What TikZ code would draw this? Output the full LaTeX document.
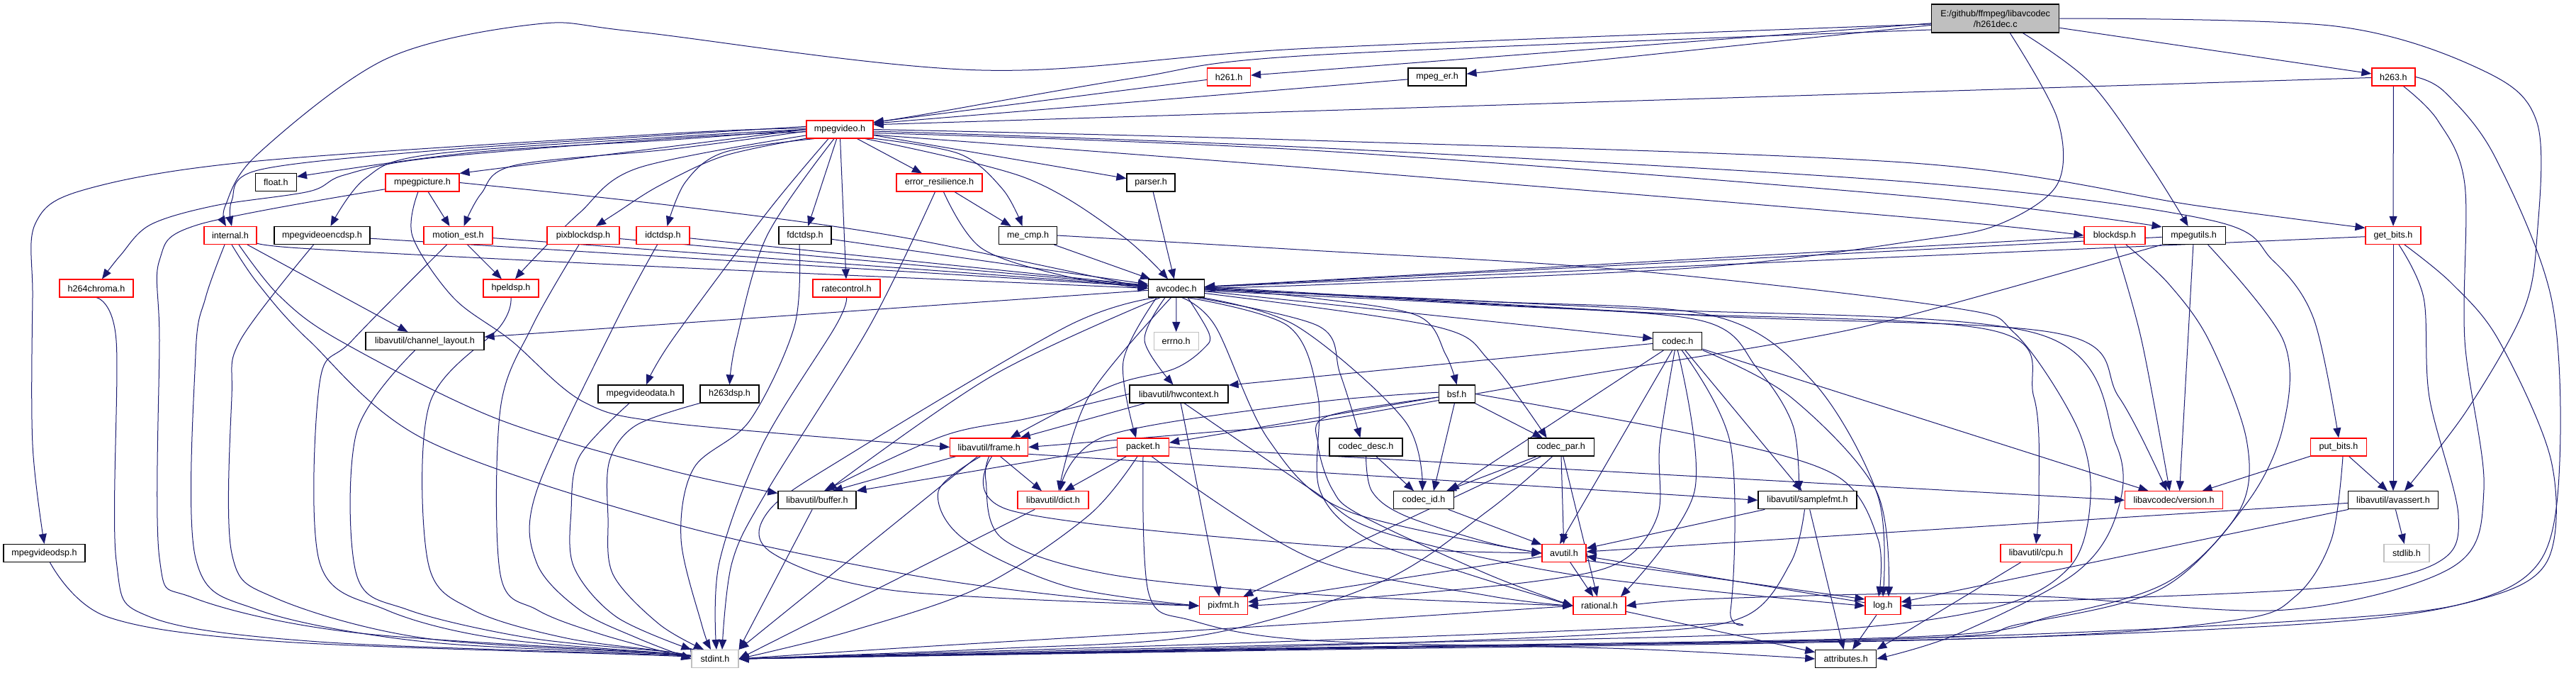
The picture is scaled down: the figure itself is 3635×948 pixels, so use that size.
\documentclass[tikz,border=0pt]{standalone}
\usepackage{fontspec}
\setmainfont{Liberation Sans}
\usetikzlibrary{arrows.meta}
\pgfdeclarelayer{back}
\pgfdeclarelayer{bg}
\pgfsetlayers{back,bg,main}
\definecolor{edgeblue}{HTML}{191970}
\definecolor{topgray}{HTML}{BFBFBF}
\definecolor{lgray}{HTML}{C0C0C0}
\definecolor{nred}{HTML}{FF0000}
\newcommand\edgeP[1]{\draw[edg] plot[smooth,tension=0.55] coordinates {#1};}
\tikzset{
  nd/.style={draw, rectangle, inner sep=0pt, minimum height=12.5pt, fill=white, line width=0.6pt,
    font=\fontsize{6.3}{7.5}\selectfont},
  rd/.style={nd, draw=nred},
  bk/.style={nd, draw=black},
  gy/.style={nd, draw=lgray},
  edg/.style={draw=edgeblue, line width=0.5pt, -{Triangle[length=7pt,width=5.5pt]}}
}
\begin{document}
\begin{tikzpicture}[x=0.5pt,y=-0.5pt]
\useasboundingbox (0,0) rectangle (3635,948);
\begin{pgfonlayer}{back}
\fill[white] (0,0) rectangle (3635,948);
\end{pgfonlayer}
% nodes
\node[bk, minimum width=90pt, minimum height=20pt, fill=topgray, align=center] (top) at (2815.7,26) {E:/github/ffmpeg/libavcodec\\/h261dec.c};
\node[rd, minimum width=30.5pt] (h261) at (1734,108.5) {h261.h};
\node[bk, minimum width=41pt] (mpeger) at (2028,108.5) {mpeg\_er.h};
\node[rd, minimum width=30.5pt] (h263) at (3377.4,108.5) {h263.h};
\node[rd, minimum width=47pt] (mpegvideo) at (1185,182.5) {mpegvideo.h};
\node[bk, minimum width=29pt] (float) at (389.4,257) {float.h};
\node[rd, minimum width=52pt] (mpegpicture) at (596,257.5) {mpegpicture.h};
\node[rd, minimum width=60.5pt] (errres) at (1325.5,257.5) {error\_resilience.h};
\node[bk, minimum width=34pt] (parser) at (1624,257.5) {parser.h};
\node[rd, minimum width=37pt] (internal) at (325,332) {internal.h};
\node[bk, minimum width=67.5pt] (mvencdsp) at (454.5,332) {mpegvideoencdsp.h};
\node[rd, minimum width=48.5pt] (motionest) at (646.5,332) {motion\_est.h};
\node[rd, minimum width=51pt] (pixblock) at (823,332) {pixblockdsp.h};
\node[rd, minimum width=37.5pt] (idct) at (935.5,332) {idctdsp.h};
\node[bk, minimum width=37pt] (fdct) at (1136,332) {fdctdsp.h};
\node[bk, minimum width=41pt] (mecmp) at (1450.6,332) {me\_cmp.h};
\node[rd, minimum width=43pt] (blockdsp) at (2984,332) {blockdsp.h};
\node[bk, minimum width=44.5pt] (mpegutils) at (3095.6,332) {mpegutils.h};
\node[rd, minimum width=39pt] (getbits) at (3377,332) {get\_bits.h};
\node[rd, minimum width=52pt] (h264chroma) at (136,406.5) {h264chroma.h};
\node[rd, minimum width=39pt] (hpeldsp) at (721,406.5) {hpeldsp.h};
\node[rd, minimum width=47.5pt] (ratecontrol) at (1194.5,406.5) {ratecontrol.h};
\node[bk, minimum width=39.5pt] (avcodec) at (1660,406.5) {avcodec.h};
\node[bk, minimum width=83.5pt] (chlayout) at (599.5,481) {libavutil/channel\_layout.h};
\node[gy, minimum width=31.5pt] (errno) at (1659.6,481) {errno.h};
\node[bk, minimum width=34.5pt] (codec) at (2367.3,481) {codec.h};
\node[bk, minimum width=60pt] (mvdata) at (904,555.5) {mpegvideodata.h};
\node[bk, minimum width=41.5pt] (h263dsp) at (1029.5,555.5) {h263dsp.h};
\node[bk, minimum width=69.5pt] (hwcontext) at (1663.5,555.5) {libavutil/hwcontext.h};
\node[bk, minimum width=25.5pt] (bsf) at (2055.6,555.5) {bsf.h};
\node[rd, minimum width=55pt] (frame) at (1395.7,630.5) {libavutil/frame.h};
\node[rd, minimum width=36.5pt] (packet) at (1613,630.5) {packet.h};
\node[bk, minimum width=51.5pt] (codecdesc) at (1927.5,630.5) {codec\_desc.h};
\node[bk, minimum width=46.5pt] (codecpar) at (2202.6,630.5) {codec\_par.h};
\node[rd, minimum width=39.5pt] (putbits) at (3300,630.5) {put\_bits.h};
\node[bk, minimum width=55pt] (buffer) at (1153,705.3) {libavutil/buffer.h};
\node[rd, minimum width=50pt] (dict) at (1486,705.3) {libavutil/dict.h};
\node[bk, minimum width=42.5pt] (codecid) at (2009,705.3) {codec\_id.h};
\node[bk, minimum width=69.5pt] (samplefmt) at (2550.5,705.3) {libavutil/samplefmt.h};
\node[rd, minimum width=69pt] (version) at (3067.6,705.3) {libavcodec/version.h};
\node[bk, minimum width=63.5pt] (avassert) at (3377,705.3) {libavutil/avassert.h};
\node[bk, minimum width=57.5pt] (mvdsp) at (62.5,780) {mpegvideodsp.h};
\node[rd, minimum width=31pt] (avutil) at (2207,780) {avutil.h};
\node[rd, minimum width=50pt] (cpu) at (2873,780) {libavutil/cpu.h};
\node[gy, minimum width=32pt] (stdlib) at (3396,780) {stdlib.h};
\node[rd, minimum width=34pt] (pixfmt) at (1726.5,854.3) {pixfmt.h};
\node[rd, minimum width=37pt] (rational) at (2257,854.3) {rational.h};
\node[rd, minimum width=25pt] (log) at (2657,854.3) {log.h};
\node[gy, minimum width=33pt] (stdint) at (1009,929) {stdint.h};
\node[bk, minimum width=43pt] (attributes) at (2604.8,929) {attributes.h};

\begin{pgfonlayer}{bg}
% top file
\edgeP{(top.185) (1850,68) (1385,99) (900,45) (757,34) (545,83) (364,217) (318,290) ([xshift=-3pt]internal.north)}
\edgeP{(top.190) (1850,78) (1600,110) (1300,162) (mpegvideo.12)}
\draw[edg] (top) -- (h261);
\draw[edg] (top) -- (mpeger);
\draw[edg] (top) -- (h263);
\edgeP{(top.-45) (2903,167) (2903,260) (2819,317) (2700,340) (2400,377) (1900,400) (avcodec.east)}
\edgeP{(top.-28) (2950,117) (3034,233) ([xshift=-4pt]mpegutils.north)}
\edgeP{(top.east) (3296,37) (3505,100) (3580,173) (3580,333) (3560,440) (3480,580) ([xshift=8pt]avassert.north)}
% second row
\draw[edg] (h261) -- (mpegvideo.12);
\draw[edg] (mpeger) -- (mpegvideo.10);
\draw[edg] (h263) -- (mpegvideo.8);
\draw[edg] (h263) -- (getbits);
\edgeP{([xshift=7pt]h263.south) (3440,170) (3478,260) (3478,480) (3505,690) (3460,800) (3225,860) (2900,842) (2700,837) (2400,845) (rational.east)}
\edgeP{(h263.east) (3450,130) (3520,220) (3600,420) (3612,650) (3585,790) (3480,850) (3250,880) (2700,903) (1800,917) (stdint.east)}
% mpegvideo
\edgeP{(mpegvideo.west) (950,197) (667,215) (float.15)}
\draw[edg] (mpegvideo.west) -- (mpegpicture.north east);
\edgeP{(mpegvideo.175) (950,190) (606,213) (364,240) (327,283) ([xshift=1pt]internal.north)}
\edgeP{(mpegvideo.180) (950,193) (606,218) (515,252) ([xshift=6pt]mvencdsp.north)}
\edgeP{(mpegvideo.-177) (950,210) (727,233) (679,273) ([xshift=4pt]motionest.north)}
\edgeP{(mpegvideo.-176) (950,195) (606,223) (485,247) (436,270) (303,290) (212,317) (170,360) ([xshift=4pt]h264chroma.north)}
\edgeP{(mpegvideo.178) (950,188) (364,227) (121,267) (50,315) (46,420) (46,627) (mvdsp.north)}
\edgeP{(mpegvideo.-170) (900,237) (818,300) (751,367) ([xshift=3pt]hpeldsp.north)}
\edgeP{(mpegvideo.-165) (1021,220) (930,262) (870,300) ([xshift=9pt]pixblock.north)}
\edgeP{(mpegvideo.-160) (1021,215) (967,257) ([xshift=3pt]idct.north)}
\draw[edg] (mpegvideo) -- (fdct);
\draw[edg] (mpegvideo) -- (ratecontrol);
\edgeP{([xshift=-8pt]mpegvideo.south) (1082,300) (948,480) ([xshift=4pt]mvdata.north)}
\edgeP{([xshift=-4pt]mpegvideo.south) (1082,333) (1039,480) (h263dsp.north)}
\draw[edg] (mpegvideo) -- (errres);
\edgeP{(mpegvideo.-15) (1354,217) (1415,267) ([xshift=-4pt]mecmp.north)}
\edgeP{(mpegvideo.-20) (1445,250) (1580,330) ([xshift=-6pt]avcodec.north)}
\draw[edg] (mpegvideo) -- (parser);
\edgeP{(mpegvideo.east) (1850,198) (2700,230) (3100,290) (getbits.165)}
\edgeP{(mpegvideo.-3) (1850,208) (2700,257) (3117,310) (3207,367) (3265,450) (putbits.north)}
\edgeP{(mpegvideo.-6) (1850,212) (2700,277) (mpegutils.165)}
\edgeP{(mpegvideo.-9) (1850,237) (2700,307) (blockdsp.west)}
% mpegpicture
\draw[edg] (mpegpicture) -- ([xshift=-6pt]motionest.north);
\edgeP{(mpegpicture.east) (950,290) (1264,333) (avcodec.west)}
\edgeP{([xshift=-3pt]mpegpicture.south) (582,333) (640,420) (721,480) (824,567) (950,597) (frame.west)}
\edgeP{(mpegpicture.-170) (279,317) (225,367) (225,480) (225,787) (273,843) (500,892) (950,922) (stdint.west)}
% internal
\draw[edg] (internal) -- (chlayout);
\edgeP{(internal.-10) (424,350) (950,377) (avcodec.west)}
\edgeP{([xshift=-4pt]internal.south) (290,420) (276,500) (276,787) (364,860) (600,905) (950,923) (stdint.west)}
\edgeP{([xshift=1pt]internal.south) (364,400) (436,480) (600,620) (945,737) (1264,807) (1500,840) (pixfmt.west)}
\edgeP{([xshift=6pt]internal.south) (394,417) (479,480) (700,590) (945,663) (buffer.170)}
% mpegvideoencdsp
\draw[edg] (mvencdsp) -- (avcodec);
\edgeP{([xshift=-6pt]mvencdsp.south) (339,480) (327,560) (327,780) (388,843) (600,900) (950,922) (stdint.west)}
% motion_est
\draw[edg] (motionest) -- (avcodec);
\draw[edg] (motionest) -- (hpeldsp);
\edgeP{([xshift=-8pt]motionest.south) (497,480) (451,540) (451,793) (545,860) (700,900) (950,922) (stdint.west)}
% misc to stdint
\edgeP{(h264chroma.south) (164,480) (164,790) (212,870) (450,905) (950,924) (stdint.west)}
\edgeP{([xshift=4pt]mvdsp.south) (152,870) (400,905) (950,925) (stdint.west)}
\edgeP{(hpeldsp.south) (706,460) (606,570) (604,793) (667,860) (800,900) (950,920) (stdint.west)}
\edgeP{([xshift=-7pt]chlayout.south) (503,610) (503,810) (576,860) (750,900) (950,920) (stdint.west)}
\draw[edg] (pixblock) -- (avcodec);
\edgeP{([xshift=-3pt]pixblock.south) (751,460) (706,577) (706,810) (758,860) (850,895) (stdint.west)}
\draw[edg] (idct) -- (avcodec);
\edgeP{([xshift=-4pt]idct.south) (866,460) (757,693) (757,793) (818,860) (900,900) (stdint.west)}
\edgeP{([xshift=-8pt]mvdata.south) (818,643) (806,720) (810,800) (870,870) (stdint.north west)}
\edgeP{(h263dsp.south west) (897,600) (860,650) (858,730) (865,810) (930,880) ([xshift=-8pt]stdint.north)}
\draw[edg] (fdct) -- (avcodec);
\edgeP{([xshift=-4pt]fdct.south) (1121,460) (1058,593) (979,660) (961,760) (990,880) ([xshift=-3pt]stdint.north)}
\edgeP{(ratecontrol.south) (1179,460) (1076,627) (1015,793) ([xshift=1pt]stdint.north)}
% error_resilience
\draw[edg] (errres) -- ([xshift=-12pt]mecmp.north);
\edgeP{([xshift=3pt]errres.south) (1385,350) (1506,390) (avcodec.west)}
\edgeP{([xshift=-3pt]errres.south) (1227,460) (1082,693) (1033,793) ([xshift=5pt]stdint.north)}
\draw[edg] (parser) -- (avcodec);
% me_cmp
\draw[edg] (mecmp) -- (avcodec);
\edgeP{(mecmp.east) (1850,353) (2285,380) (2750,433) (2843,470) (2930,600) (2950,700) (2920,800) (2800,860) (2500,893) (1800,910) (stdint.east)}
% blockdsp
\draw[edg] (blockdsp) -- (avcodec);
\edgeP{(blockdsp.south) (3022,480) ([xshift=-3pt]version.north)}
\edgeP{([xshift=8pt]blockdsp.south) (3060,400) (3117,480) (3170,620) (3160,720) (3060,820) (2900,868) (2700,898) (1800,914) (stdint.east)}
% mpegutils
\draw[edg] (mpegutils) -- (avcodec);
\edgeP{(mpegutils.south west) (2700,443) (2533,480) (2200,535) (1850,595) (1700,610) (frame.east)}
\draw[edg] (mpegutils) -- ([xshift=4pt]version.north);
\edgeP{([xshift=10pt]mpegutils.south) (3222,480) (3222,600) (3170,710) (3050,830) (2850,880) (2700,900) (1800,916) (stdint.east)}
% get_bits
\draw[edg] (getbits) -- (avcodec);
\draw[edg] (getbits) -- (avassert);
\edgeP{([xshift=4pt]getbits.south) (3420,420) (3428,560) (3469,727) (3440,793) (3296,827) (3000,843) (log.east)}
\edgeP{([xshift=8pt]getbits.south) (3460,400) (3526,480) (3600,650) (3595,790) (3500,845) (3300,872) (2700,900) (1800,915) (stdint.east)}
% put_bits
\draw[edg] (putbits) -- ([xshift=20pt]version.north);
\draw[edg] (putbits) -- ([xshift=-4pt]avassert.north);
\edgeP{([xshift=3pt]putbits.south) (3290,760) (3240,840) (3150,875) (2800,900) (1800,915) (stdint.east)}
% avassert
\draw[edg] (avassert) -- (avutil);
\draw[edg] (avassert) -- (log);
\draw[edg] (avassert) -- (stdlib);
% cpu, log, avutil, rational
\draw[edg] (cpu) -- (attributes.north east);
\draw[edg] (log) -- (attributes);
\draw[edg] (log.170) -- (avutil.-8);
\draw[edg] (avutil.-18) -- (log.160);
\draw[edg] (avutil) -- (rational);
\draw[edg] (avutil) -- (pixfmt);
\draw[edg] (rational) -- (attributes);
\edgeP{(rational.west) (1800,882) (1300,912) (stdint.east)}
% samplefmt
\draw[edg] (samplefmt) -- (avutil);
\draw[edg] (samplefmt) -- (attributes);
\edgeP{([xshift=-2pt]samplefmt.south) (2527,793) (2460,870) (2285,893) (1800,912) (stdint.east)}
% codec_id, codec_desc, codec_par
\draw[edg] (codecid) -- (avutil);
\draw[edg] (codecdesc) -- ([xshift=-7pt]codecid.north);
\edgeP{(codecdesc.south) (1936,693) (1982,727) (2100,765) (avutil.west)}
\draw[edg] (codecpar) -- ([xshift=16pt]codecid.north);
\draw[edg] (codecpar) -- (avutil);
\draw[edg] (codecpar) -- (rational);
\draw[edg] (codecpar) -- (pixfmt);
\edgeP{([xshift=-6pt]codecpar.south) (2100,720) (1950,820) (1700,895) (1400,915) (stdint.east)}
% bsf
\draw[edg] (bsf) -- (packet);
\edgeP{(bsf.175) (1850,568) (1560,615) ([xshift=5pt]dict.north)}
\draw[edg] (bsf) -- ([xshift=7pt]codecid.north);
\draw[edg] (bsf) -- ([xshift=-13pt]codecpar.north);
\edgeP{(bsf.east) (2400,615) (2590,670) (2650,760) ([xshift=-3pt]log.north)}
\edgeP{(bsf.-170) (1873,587) (1860,627) (1880,690) (1921,727) (2100,810) (rational.west)}
% codec
\draw[edg] (codec) -- (hwcontext.10);
\draw[edg] (codec) -- ([xshift=18pt]codecid.north);
\draw[edg] (codec) -- ([xshift=-3pt]avutil.north);
\edgeP{([xshift=-2pt]codec.south) (2342,627) (2339,727) (2285,793) (2164,820) (1900,845) (pixfmt.east)}
\edgeP{(codec.south) (2391,693) ([xshift=15pt]rational.north)}
\edgeP{([xshift=3pt]codec.south) (2442,627) (2442,860) (2406,880) (1800,905) (stdint.east)}
\draw[edg] (codec) -- ([xshift=-4pt]samplefmt.north);
\edgeP{(codec.-20) (2527,560) (2648,693) ([xshift=4pt]log.north)}
\draw[edg] (codec) -- ([xshift=-18pt]version.north);
% hwcontext
\edgeP{(hwcontext.west) (1450,590) (1330,615) ([xshift=5pt]buffer.north)}
\draw[edg] (hwcontext) -- ([xshift=22pt]frame.north);
\draw[edg] (hwcontext) -- ([xshift=-3pt]pixfmt.north);
\edgeP{(hwcontext.-60) (1850,690) (1950,750) (2230,812) (log.west)}
% frame
\draw[edg] (frame) -- ([xshift=11pt]buffer.north);
\draw[edg] (frame) -- ([xshift=-8pt]dict.north);
\draw[edg] (frame) -- (stdint.north east);
\edgeP{([xshift=-6pt]frame.south) (1324,693) (1360,760) (1506,827) (pixfmt.west)}
\edgeP{(frame.south) (1391,677) (1415,760) (1566,810) (1850,838) (rational.west)}
\edgeP{([xshift=2pt]frame.south) (1427,720) (1850,768) (avutil.west)}
\draw[edg] (frame.-10) -- (samplefmt.west);
% packet
\draw[edg] (packet.west) -- (buffer.north east);
\draw[edg] (packet) -- ([xshift=8pt]dict.north);
\edgeP{([xshift=-4pt]packet.south) (1536,727) (1385,827) (1200,890) (stdint.east)}
\edgeP{(packet.south) (1621,837) (1682,875) (1850,903) (2300,915) (attributes.west)}
\edgeP{([xshift=6pt]packet.south) (1850,787) (2100,840) (rational.west)}
\draw[edg] (packet.east) -- (version.west);
% buffer, dict
\draw[edg] (buffer) -- (stdint.north east);
\draw[edg] (dict) -- (stdint.east);
% avcodec
\draw[edg] (avcodec) -- (chlayout);
\draw[edg] (avcodec) -- (errno);
\draw[edg] (avcodec) -- (codec);
\edgeP{([xshift=-8pt]avcodec.south) (1615,480) ([xshift=-4pt]hwcontext.north)}
\edgeP{([xshift=8pt]avcodec.south) (1706,470) (1700,490) (1657,520) (1566,545) ([xshift=15pt]frame.north)}
\edgeP{([xshift=-14pt]avcodec.south) (1585,510) ([xshift=-5pt]packet.north)}
\edgeP{(avcodec.-120) (1536,560) ([xshift=4pt]dict.north)}
\edgeP{(avcodec.-150) (1400,530) ([xshift=7pt]buffer.north)}
\edgeP{(avcodec.-155) (1506,460) (1200,640) (1085,720) (1090,780) (1264,833) (pixfmt.west)}
\edgeP{(avcodec.east) (1850,420) (2000,445) (2040,500) (bsf.north)}
\edgeP{(avcodec.-25) (1861,460) (1891,527) ([xshift=-4pt]codecdesc.north)}
\edgeP{(avcodec.-20) (1830,460) (1982,593) ([xshift=-1pt]codecid.north)}
\edgeP{(avcodec.-10) (2024,460) (2103,510) ([xshift=-10pt]codecpar.north)}
\edgeP{(avcodec.-5) (2100,430) (2400,452) (2480,520) (2530,600) ([xshift=-6pt]samplefmt.north)}
\edgeP{(avcodec.-3) (2100,425) (2420,446) (2560,540) (2650,700) (log.north)}
\edgeP{(avcodec.-60) (1715,460) (1790,620) (1900,720) (avutil.west)}
\edgeP{(avcodec.-40) (1818,460) (1860,560) (1862,690) (1930,760) (2073,810) (rational.west)}
\edgeP{(avcodec.-2) (2300,435) (2873,470) (2986,627) (2986,727) (2926,810) (2760,895) (attributes.east)}
\edgeP{(avcodec.1) (2300,440) (2807,465) (2870,560) (2877,700) (cpu.north)}
\edgeP{(avcodec.3) (2400,445) (2903,470) (2990,560) ([xshift=-5pt]version.north)}
\end{pgfonlayer}
\end{tikzpicture}
\end{document}
